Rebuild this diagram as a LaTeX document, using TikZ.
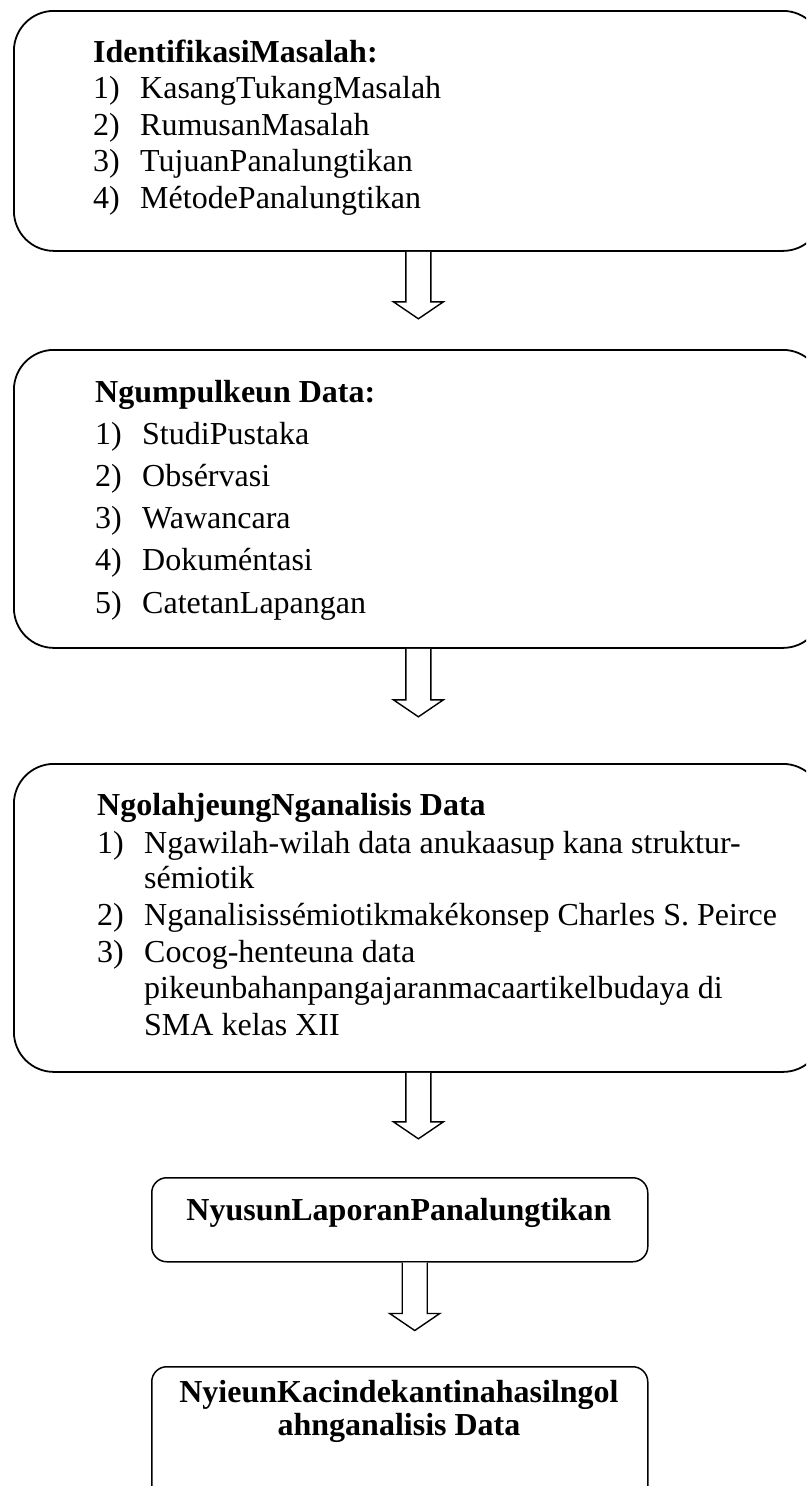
\documentclass[tikz,border=0pt]{standalone}
\usepackage{fontspec}
\setmainfont{Liberation Serif}
\usetikzlibrary{positioning,calc}

\tikzset{
  bigbox/.style={draw, line width=1.8pt, rounded corners=40pt, anchor=north west, inner sep=0pt},
  smallbox/.style={draw, line width=1.5pt, rounded corners=15pt, anchor=north west, inner sep=0pt},
  txt/.style={anchor=base west, inner sep=0pt, font=\fontsize{32}{37}\selectfont},
  ttl/.style={txt, font=\fontsize{32}{37}\selectfont\bfseries},
  hollow/.style={draw, line width=1.4pt, fill=white, line join=miter}
}

% hollow block arrow: #1 = top of shaft, #2 = tip
\newcommand{\blockarrow}[2]{%
  \draw[hollow] ($(#1)+(-12.5,0)$) -- ($(#2)+(-12.5,17)$) -- ($(#2)+(-25,17)$)
    -- (#2) -- ($(#2)+(25,17)$) -- ($(#2)+(12.5,17)$) -- ($(#1)+(12.5,0)$);}

\begin{document}
\begin{tikzpicture}[x=1pt, y=1pt]
\useasboundingbox (0,0) rectangle (806,-1486);
\clip (0,0) rectangle (806,-1486);

% boxes
\node[bigbox, minimum width=809pt, minimum height=240pt] (idf) at (13,-10) {};
\node[bigbox, minimum width=809pt, minimum height=298pt] (data) at (13,-349) {};
\node[bigbox, minimum width=809pt, minimum height=308pt] (olah) at (13,-763) {};
\node[smallbox, minimum width=496pt, minimum height=84pt] (lap) at (151,-1177) {};
\node[smallbox, minimum width=496pt, minimum height=160pt] (hasil) at (151,-1366) {};

% box 1
\node[ttl] (idf-t) at (93,-62) {IdentifikasiMasalah:};
\foreach \txt [count=\k] in {KasangTukangMasalah, RumusanMasalah, TujuanPanalungtikan, MétodePanalungtikan}
{
  \node[txt] (idf-n\k) at (93,{-62-36.6*\k}) {\k)};
  \node[txt] (idf-i\k) at (140,{-62-36.6*\k}) {\txt};
}

% box 2
\node[ttl] (data-t) at (95,-402) {Ngumpulkeun Data:};
\foreach \txt [count=\k] in {StudiPustaka, Obsérvasi, Wawancara, Dokuméntasi, CatetanLapangan}
{
  \node[txt] (data-n\k) at (95,{-402-42.2*\k}) {\k)};
  \node[txt] (data-i\k) at (142,{-402-42.2*\k}) {\txt};
}

% box 3
\node[ttl] (olah-t) at (97,-815) {NgolahjeungNganalisis Data};
\node[txt] (olah-n1) at (97,-853) {1)};
\node[txt] (olah-i1) at (144,-853) {Ngawilah-wilah data anukaasup kana struktur-};
\node[txt] (olah-i1b) at (144,-888) {sémiotik};
\node[txt] (olah-n2) at (97,-925) {2)};
\node[txt] (olah-i2) at (144,-925) {Nganalisissémiotikmakékonsep Charles S. Peirce};
\node[txt] (olah-n3) at (97,-962) {3)};
\node[txt] (olah-i3) at (144,-962) {Cocog-henteuna data};
\node[txt] (olah-i3b) at (144,-998) {pikeunbahanpangajaranmacaartikelbudaya di};
\node[txt] (olah-i3c) at (144,-1035) {SMA kelas XII};

% box 4 and 5
\node[ttl, anchor=base] (lap-t) at (399,-1220) {NyusunLaporanPanalungtikan};
\node[ttl, anchor=base] (hasil-t1) at (399,-1402) {NyieunKacindekantinahasilngol};
\node[ttl, anchor=base] (hasil-t2) at (399,-1435) {ahnganalisis Data};

% arrows
\coordinate (tip1) at ([yshift=-67pt]idf.south);
\coordinate (tip2) at ([yshift=-68pt]data.south);
\coordinate (tip3) at ([yshift=-66pt]olah.south);
\coordinate (top4) at ([xshift=15pt]lap.south);
\coordinate (tip4) at ([yshift=-68pt]top4);
\blockarrow{idf.south}{tip1}
\blockarrow{data.south}{tip2}
\blockarrow{olah.south}{tip3}
\blockarrow{top4}{tip4}
\end{tikzpicture}
\end{document}
